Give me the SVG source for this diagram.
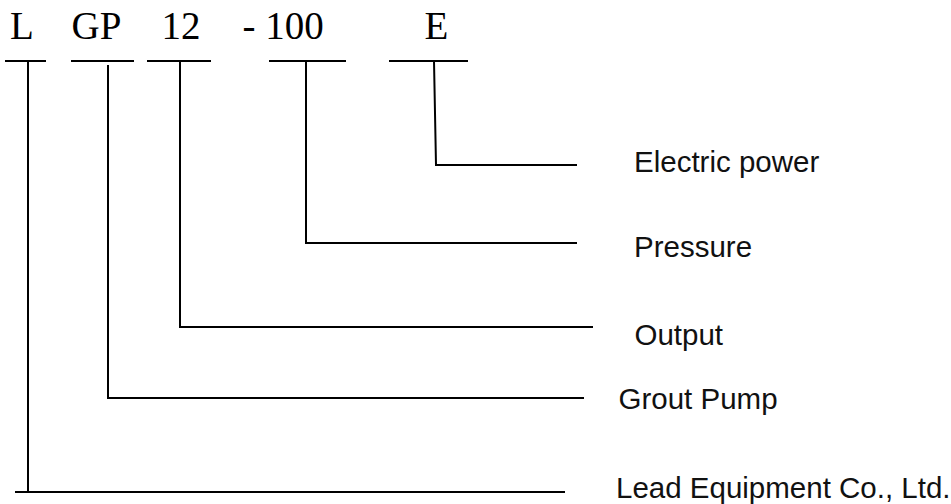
<svg xmlns="http://www.w3.org/2000/svg" width="951" height="504" viewBox="0 0 951 504">
<style>
.code{font-family:"Liberation Serif","Times New Roman",serif;font-size:39px;fill:#000}
.lbl{font-family:"Liberation Sans",Arial,sans-serif;font-size:29.5px;fill:#111}
.ln{stroke:#000;stroke-width:2;fill:none}
</style>
<rect width="951" height="504" fill="#fff"/>
<g id="code-L"><text class="code" x="10" y="39">L</text><line class="ln" x1="5" y1="61" x2="46" y2="61"/></g>
<g id="code-GP"><text class="code" x="71.5" y="39">GP</text><line class="ln" x1="71" y1="61" x2="134" y2="61"/></g>
<g id="code-12"><text class="code" x="161.5" y="39">12</text><line class="ln" x1="147" y1="61" x2="211" y2="61"/></g>
<g id="code-100"><text class="code" x="242.5" y="39">- 100</text><line class="ln" x1="269" y1="61" x2="346" y2="61"/></g>
<g id="code-E"><text class="code" x="424.5" y="39">E</text><line class="ln" x1="389" y1="61" x2="468" y2="61"/></g>
<g id="label-electric"><text class="lbl" x="634" y="172">Electric power</text></g>
<g id="label-pressure"><text class="lbl" x="634" y="257">Pressure</text></g>
<g id="label-output"><text class="lbl" x="634.5" y="345">Output</text></g>
<g id="label-grout"><text class="lbl" x="618.5" y="409">Grout Pump</text></g>
<g id="label-lead"><text class="lbl" x="616" y="498">Lead Equipment Co., Ltd.</text></g>
<g id="connectors">
<polyline class="ln" points="434,61 436,165 577,165"/>
<polyline class="ln" points="306,61 306,243 577,243"/>
<polyline class="ln" points="180,61 180,327 593,327"/>
<polyline class="ln" points="108,65 108,398 584,398"/>
<polyline class="ln" points="28,61 28,492"/>
<line class="ln" x1="15" y1="492" x2="565" y2="492"/>
</g>
</svg>
